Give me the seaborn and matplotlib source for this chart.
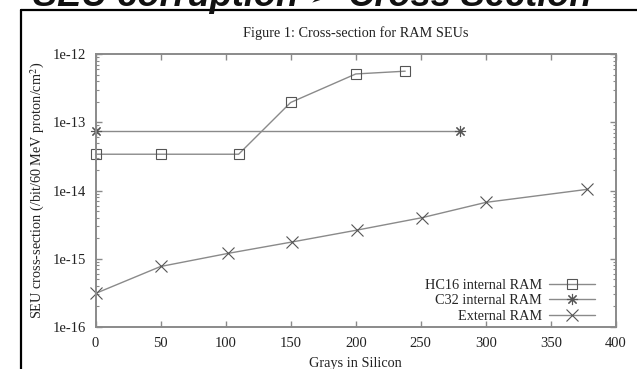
import numpy as np
import pandas as pd
import matplotlib
matplotlib.use("Agg")
import matplotlib.pyplot as plt
import seaborn as sns
from matplotlib.lines import Line2D
from matplotlib.ticker import NullFormatter, LogLocator

# datos
hc16_gy = [0, 50, 110, 150, 200, 238]
hc16_xs = [3.4e-14, 3.4e-14, 3.4e-14, 1.95e-13, 5.1e-13, 5.6e-13]

c32_gy = [0, 280]
c32_xs = [7.5e-14, 7.5e-14]

ext_gy = [0, 50, 102, 151, 201, 251, 300, 378]
ext_xs = [3.1e-16, 7.7e-16, 1.2e-15, 1.76e-15, 2.63e-15, 4.0e-15, 6.7e-15, 1.04e-14]

x_ticks = [0, 50, 100, 150, 200, 250, 300, 350, 400]
y_ticks = [1e-16, 1e-15, 1e-14, 1e-13, 1e-12]
y_tick_labels = ["1e-16", "1e-15", "1e-14", "1e-13", "1e-12"]

sns.set_style("ticks")
plt.rcParams["font.family"] = ["Liberation Serif", "DejaVu Serif"]
plt.rcParams["mathtext.fontset"] = "stix"

fig = plt.figure(figsize=(6.37, 3.69), dpi=100)
ax = fig.add_axes([95.5 / 637, 1 - 327 / 369, (616 - 95.5) / 637, (327 - 54) / 369])
ax.set_yscale("log")

line_col = "#8a8a8a"
mark_col = "#555555"
series = [
    (hc16_gy, hc16_xs, "HC16 internal RAM", "s", 7),
    (c32_gy, c32_xs, "C32 internal RAM", (8, 2, 0), 8),
    (ext_gy, ext_xs, "External RAM", "x", 8),
]
for gy, xs, name, mk, ms in series:
    df = pd.DataFrame({"Gy": gy, "xs": xs})
    sns.lineplot(data=df, x="Gy", y="xs", ax=ax, color=line_col, linewidth=1.0,
                 marker=mk, markersize=ms, markerfacecolor="none",
                 markeredgecolor=mark_col, markeredgewidth=0.8, label=name,
                 clip_on=False)

ax.set_xlim(0, 400)
ax.set_ylim(1e-16, 1e-12)
ax.set_xticks(x_ticks)
ax.set_yticks(y_ticks, labels=y_tick_labels)
ax.yaxis.set_minor_locator(LogLocator(base=10, subs=np.arange(2, 10)))
ax.yaxis.set_minor_formatter(NullFormatter())

for s in ax.spines.values():
    s.set_visible(True)
    s.set_color("#8a8a8a")
    s.set_linewidth(1.4)
ax.tick_params(which="both", direction="in", top=True, right=True,
               color="#8a8a8a", labelcolor="#222222", labelsize=10.5)
ax.tick_params(which="major", length=4, width=1.0, pad=7)
ax.tick_params(which="minor", length=2, width=0.8)

ax.set_xlabel("Grays in Silicon", fontsize=10.3, color="#222222", labelpad=5)
ax.set_ylabel("SEU cross-section (/bit/60 MeV proton/cm$^2$)", fontsize=10.3,
              color="#222222", labelpad=4)
ax.set_title("Figure 1: Cross-section for RAM SEUs", fontsize=10.3, color="#222222", pad=12)

leg = ax.legend(loc="lower right", frameon=False, markerfirst=False, fontsize=10.3,
                handlelength=3.2, handletextpad=0.5, labelspacing=0.15,
                borderaxespad=0.0, bbox_to_anchor=(0.97, -0.005))

# marco negro y cabecera de la diapositiva
fig.add_artist(Line2D([21 / 637, 21 / 637], [0, 1 - 10 / 369], color="black", lw=1.6))
fig.add_artist(Line2D([21 / 637, 1], [1 - 10 / 369, 1 - 10 / 369], color="black", lw=1.6))
fig.text(33 / 637, 1 - 6 / 369, "SEU corruption \u27a2 Cross Section", fontsize=26,
         fontweight="bold", fontstyle="italic", ha="left", va="baseline",
         family=["Liberation Sans", "DejaVu Sans"], color="#111111")

fig.savefig("out.png", dpi=100, facecolor="white")
